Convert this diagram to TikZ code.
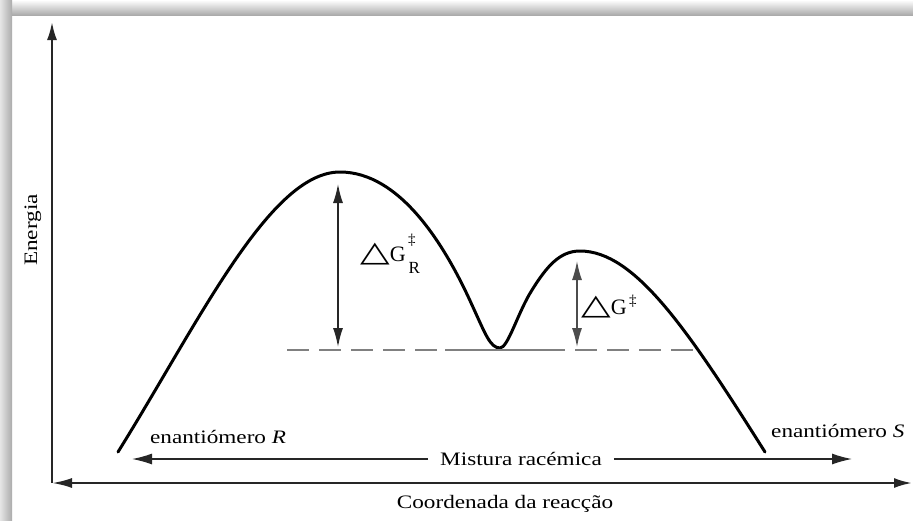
\documentclass[tikz,border=0pt]{standalone}
\usepackage{graphicx}
\usepackage{fontspec}
\setmainfont{Liberation Serif}
\newfontfamily\symfont{DejaVu Sans}
\usetikzlibrary{arrows.meta}
\newcommand{\stx}[1]{\scalebox{1.22}[1]{#1}}
\newcommand{\tri}{\scalebox{1.75}[1.3]{\symfont △}}
\begin{document}
\begin{tikzpicture}[x=1pt,y=-1pt,
  txt/.style={font=\fontsize{19}{22}\selectfont, inner sep=0pt, text=black},
  lbl/.style={font=\fontsize{22}{22}\selectfont, inner sep=0pt, text=black},
  axis/.style={line width=2.2pt, draw=black!85},
  thin arrow/.style={line width=1.3pt, draw=black!85},
  dbl/.style={line width=1.4pt, draw=black!85, {Latex[length=19pt,width=10pt]}-{Latex[length=19pt,width=10pt]}},
  curve/.style={line width=3pt, draw=black, line join=round, line cap=round},
  dashline/.style={line width=2pt, draw=black!50, dash pattern=on 22pt off 10pt}]
\useasboundingbox (0,0) rectangle (913,520);
% frame shadows
\shade[top color=white, bottom color=black!33] (0,0) rectangle (913,15);
\shade[left color=black!10, right color=black!33] (0,0) rectangle (12,520);
% axes
\coordinate (O) at (52,483);
\coordinate (ytop) at (52,22);
\coordinate (xL) at (52,483);
\coordinate (xR) at (912,483);
\draw[axis, -{Latex[length=18pt,width=10pt]}] (O) -- (ytop);
\draw[axis, {Latex[length=20pt,width=10pt]}-{Latex[length=18pt,width=10pt]}] (xL) -- (xR);
% axis labels
\node[txt, rotate=90] (energia) at (33,230) {\stx{Energia}};
\node[txt] (coord) at (505,504) {\stx{Coordenada da reacção}};
% curve
\draw[curve] (118,452) .. controls (200,320) and (270,172) .. (340,172)
  .. controls (400,172) and (445,245) .. (472,305)
  .. controls (485,333) and (490,348) .. (500,348)
  .. controls (508,348) and (518,312) .. (532,290)
  .. controls (547,266) and (560,251) .. (580,251)
  .. controls (635,251) and (688,330) .. (765,452);
% dashed level
\coordinate (d1) at (287,350);
\coordinate (d2) at (693,350);
\coordinate (s1) at (445,350);
\coordinate (s2) at (553,350);
\draw[dashline] (d1) -- (d2);
\draw[line width=2pt, draw=black!50] (s1) -- (s2);
% Delta G arrows
\coordinate (aR1) at (338,184);
\coordinate (aR2) at (338,347);
\draw[dbl] (aR1) -- (aR2);
\coordinate (aS1) at (577,261);
\coordinate (aS2) at (577,347);
\draw[dbl, draw=black!70] (aS1) -- (aS2);
\node[lbl, anchor=base west] (dGR) at (360,261) {\tri G\rlap{\raisebox{17pt}{\fontsize{15}{15}\selectfont\,‡}}\raisebox{-12pt}{\fontsize{17}{17}\selectfont\,R}};
\node[lbl, anchor=base west] (dGS) at (581,314) {\tri G\raisebox{9pt}{\fontsize{15}{15}\selectfont\,‡}};
% enantiomers and racemic mixture
\node[txt, anchor=west] (enR) at (150,437) {\stx{enantiómero \textit{R}}};
\node[txt, anchor=west] (enS) at (771,431) {\stx{enantiómero \textit{S}}};
\node[txt, inner xsep=12pt] (mix) at (521,459) {\stx{Mistura racémica}};
\coordinate (mixL) at (132,459);
\coordinate (mixR) at (852,459);
\draw[thin arrow, -{Latex[length=20pt,width=11pt]}] (mix.west) -- (mixL);
\draw[thin arrow, -{Latex[length=20pt,width=11pt]}] (mix.east) -- (mixR);
\end{tikzpicture}
\end{document}
